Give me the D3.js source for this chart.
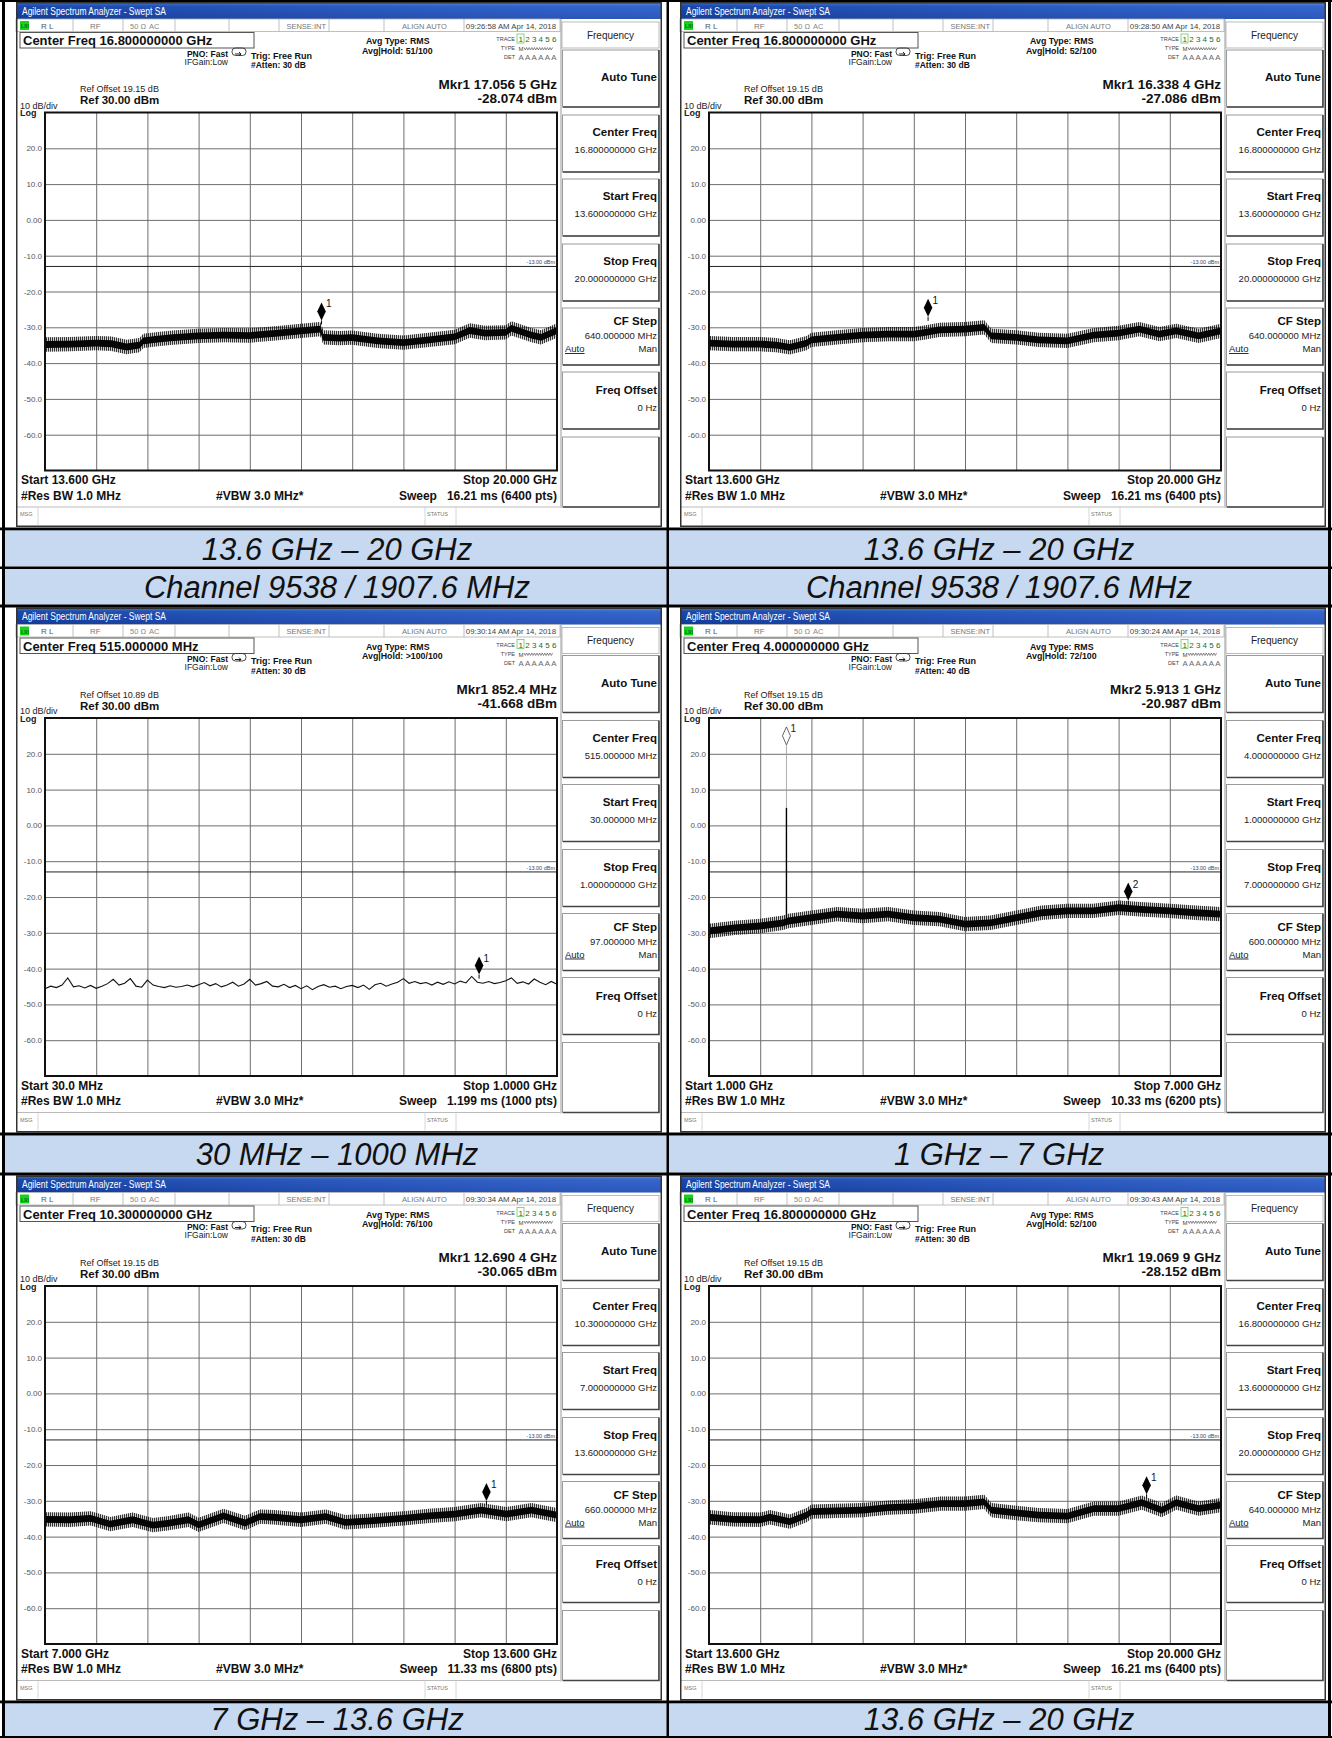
<!DOCTYPE html>
<html><head><meta charset="utf-8">
<script src="https://cdn.jsdelivr.net/npm/d3@7"></script>
<style>
body{margin:0;background:#fff}
svg{display:block}
text{font-family:'Liberation Sans',Arial,sans-serif;white-space:pre}
</style>
</head><body>
<svg id="c" width="1332" height="1738"></svg>
<script>
// ---------- DATA ----------
const captionRow1a = ["13.6 GHz – 20 GHz", "13.6 GHz – 20 GHz"];
const captionRow1b = ["Channel 9538 / 1907.6 MHz", "Channel 9538 / 1907.6 MHz"];
const captionRow2 = ["30 MHz – 1000 MHz", "1 GHz – 7 GHz"];
const captionRow3 = ["7 GHz – 13.6 GHz", "13.6 GHz – 20 GHz"];

const yTickValues = [20, 10, 0, -10, -20, -30, -40, -50, -60];
const yTickLabels = ["20.0", "10.0", "0.00", "-10.0", "-20.0", "-30.0", "-40.0", "-50.0", "-60.0"];
const refLevelDbm = 30;
const bottomLevelDbm = -70;
const limitLineDbm = -13;

const panelCenterFreq = ["16.800000000 GHz", "16.800000000 GHz", "515.000000 MHz", "4.000000000 GHz", "10.300000000 GHz", "16.800000000 GHz"];
const panelAvgHold = ["51/100", "52/100", ">100/100", "72/100", "76/100", "52/100"];
const panelAtten = ["30 dB", "30 dB", "30 dB", "40 dB", "30 dB", "30 dB"];
const panelTime = ["09:26:58 AM Apr 14, 2018", "09:28:50 AM Apr 14, 2018", "09:30:14 AM Apr 14, 2018", "09:30:24 AM Apr 14, 2018", "09:30:34 AM Apr 14, 2018", "09:30:43 AM Apr 14, 2018"];
const panelRefOffset = ["19.15 dB", "19.15 dB", "10.89 dB", "19.15 dB", "19.15 dB", "19.15 dB"];
const panelStartGHz = [13.6, 13.6, 0.03, 1.0, 7.0, 13.6];
const panelStopGHz = [20.0, 20.0, 1.0, 7.0, 13.6, 20.0];
const panelStartText = ["13.600 GHz", "13.600 GHz", "30.0 MHz", "1.000 GHz", "7.000 GHz", "13.600 GHz"];
const panelStopText = ["20.000 GHz", "20.000 GHz", "1.0000 GHz", "7.000 GHz", "13.600 GHz", "20.000 GHz"];
const panelSweep = ["16.21 ms (6400 pts)", "16.21 ms (6400 pts)", "1.199 ms (1000 pts)", "10.33 ms (6200 pts)", "11.33 ms (6800 pts)", "16.21 ms (6400 pts)"];
const panelStartKey = ["13.600000000 GHz", "13.600000000 GHz", "30.000000 MHz", "1.000000000 GHz", "7.000000000 GHz", "13.600000000 GHz"];
const panelStopKey = ["20.000000000 GHz", "20.000000000 GHz", "1.000000000 GHz", "7.000000000 GHz", "13.600000000 GHz", "20.000000000 GHz"];
const panelCfStep = ["640.000000 MHz", "640.000000 MHz", "97.000000 MHz", "600.000000 MHz", "660.000000 MHz", "640.000000 MHz"];

const markerName = ["Mkr1", "Mkr1", "Mkr1", "Mkr2", "Mkr1", "Mkr1"];
const markerNum = ["1", "1", "1", "2", "1", "1"];
const markerFreqText = ["17.056 5 GHz", "16.338 4 GHz", "852.4 MHz", "5.913 1 GHz", "12.690 4 GHz", "19.069 9 GHz"];
const markerFreqGHz = [17.0565, 16.3384, 0.8524, 5.9131, 12.6904, 19.0699];
const markerLevelDbm = [-28.074, -27.086, -41.668, -20.987, -30.065, -28.152];

// traces: [GHz, dBm] (centre of the noise band)
const trace1 = [[13.60,-34.8],[13.92,-34.7],[14.24,-34.4],[14.43,-34.6],[14.62,-35.5],[14.78,-35.0],[14.83,-33.8],[15.01,-33.3],[15.20,-32.9],[15.52,-32.4],[15.84,-32.2],[16.16,-32.3],[16.48,-31.7],[16.80,-31.0],[17.04,-30.5],[17.08,-32.8],[17.28,-33.0],[17.44,-32.9],[17.76,-33.8],[18.08,-34.3],[18.40,-33.5],[18.72,-32.7],[18.91,-30.9],[19.10,-31.6],[19.36,-31.4],[19.43,-30.3],[19.68,-32.2],[19.80,-32.8],[20.00,-30.9]];
const trace2 = [[13.60,-34.4],[13.90,-34.7],[14.24,-34.7],[14.44,-35.0],[14.61,-35.6],[14.82,-34.4],[14.88,-33.5],[15.20,-32.8],[15.52,-32.2],[15.84,-31.9],[16.16,-31.9],[16.29,-31.5],[16.48,-30.7],[16.80,-30.5],[17.04,-30.0],[17.13,-32.4],[17.44,-32.8],[17.72,-33.5],[18.08,-33.8],[18.41,-32.2],[18.72,-31.6],[18.98,-30.5],[19.23,-31.9],[19.44,-31.0],[19.72,-32.4],[20.00,-31.0]];
const trace3 = [-45.6,-44.9,-45.3,-44.6,-42.6,-45.1,-44.8,-45.4,-44.7,
  -45.5,-44.9,-44.2,-43.0,-44.6,-44.1,-42.8,-44.9,-45.2,
  -43.2,-44.6,-45.0,-45.3,-44.8,-45.2,-45.0,-44.6,-45.1,
  -44.5,-43.9,-44.8,-44.2,-45.1,-44.6,-43.8,-44.9,-44.3,
  -43.0,-44.6,-44.2,-43.6,-44.9,-45.1,-44.4,-45.3,-44.7,
  -45.6,-44.8,-45.9,-45.0,-44.5,-45.2,-44.9,-45.6,-45.0,
  -44.7,-45.3,-44.6,-45.8,-44.5,-44.1,-44.9,-44.3,-43.8,
  -42.8,-44.1,-43.6,-44.2,-43.9,-44.6,-43.8,-44.4,-43.7,
  -44.3,-43.5,-44.0,-42.2,-43.8,-44.1,-43.6,-44.2,-43.9,
  -43.4,-42.6,-44.1,-43.7,-44.3,-42.9,-43.8,-44.5,-43.6,-44.4];
const trace4 = [[1.00,-29.5],[1.30,-28.6],[1.60,-28.1],[1.87,-27.2],[1.93,-26.7],[2.20,-25.8],[2.50,-24.8],[2.80,-25.3],[3.10,-24.8],[3.40,-25.8],[3.70,-26.2],[4.00,-27.6],[4.30,-27.2],[4.60,-25.8],[4.90,-24.4],[5.20,-23.9],[5.50,-23.9],[5.80,-23.0],[6.10,-23.5],[6.40,-23.9],[6.70,-24.4],[7.00,-24.8]];
const trace5 = [[7.00,-35.2],[7.32,-35.3],[7.59,-34.9],[7.84,-36.5],[8.13,-35.3],[8.39,-36.8],[8.58,-36.3],[8.85,-35.3],[8.98,-36.7],[9.30,-34.2],[9.58,-36.2],[9.77,-34.4],[9.95,-34.6],[10.30,-35.3],[10.62,-34.4],[10.87,-36.0],[11.19,-35.6],[11.62,-34.9],[11.95,-34.2],[12.28,-33.7],[12.62,-32.6],[12.95,-33.7],[13.27,-32.6],[13.60,-34.0]];
const trace6 = [[13.60,-34.6],[13.90,-35.2],[14.24,-35.3],[14.36,-34.6],[14.61,-35.8],[14.82,-34.0],[14.88,-33.0],[15.20,-32.8],[15.52,-32.6],[15.84,-31.9],[16.16,-31.6],[16.50,-30.8],[16.80,-30.8],[17.04,-30.3],[17.13,-32.6],[17.44,-33.4],[17.72,-34.0],[18.08,-34.3],[18.41,-32.2],[18.72,-32.2],[19.01,-30.5],[19.26,-32.6],[19.44,-30.5],[19.72,-32.2],[20.00,-31.2]];

// panel 4 extras: carrier spike and reference marker 1
const spikeFreqGHz = 1.9076;
const spikeTopDbm = 4.9;
const refMarkerDbm = 22.5;

// ---------- LAYOUT ----------
const svg = d3.select("#c");
const W = 646, H = 525;
const colX = [16, 680];
const rowY = [2, 607.5, 1175.5];
const px0 = 29, px1 = 541, py0 = 110.5, py1 = 468.5;

const defs = svg.append("defs");
const grad = defs.append("linearGradient").attr("id", "tb").attr("x1", 0).attr("y1", 0).attr("x2", 0).attr("y2", 1);
grad.append("stop").attr("offset", "0%").attr("stop-color", "#4a86e8");
grad.append("stop").attr("offset", "25%").attr("stop-color", "#1f55c8");
grad.append("stop").attr("offset", "100%").attr("stop-color", "#1545b4");
const grad2 = defs.append("linearGradient").attr("id", "tbh").attr("x1", 0).attr("y1", 0).attr("x2", 1).attr("y2", 0);
grad2.append("stop").attr("offset", "0%").attr("stop-color", "#000").attr("stop-opacity", 0.15);
grad2.append("stop").attr("offset", "100%").attr("stop-color", "#fff").attr("stop-opacity", 0.1);
// fine vertical hatch used to give the trace band a noisy edge
const pat = defs.append("pattern").attr("id", "noise").attr("width", 2).attr("height", 4).attr("patternUnits", "userSpaceOnUse");
pat.append("rect").attr("width", 1).attr("height", 4).attr("fill", "#000").attr("opacity", 0.75);

// table background: caption bands
const bandColor = "#c6d9f1";
[[530, 566.5], [569, 604.5], [1135.5, 1172.5], [1703, 1736]].forEach(b => {
  svg.append("rect").attr("x", 5).attr("y", b[0]).attr("width", 1323).attr("height", b[1] - b[0]).attr("fill", bandColor);
});

function T(g, x, y, s, size, opts = {}) {
  const t = g.append("text").attr("x", x).attr("y", y).attr("font-size", size).text(s);
  if (opts.w) t.attr("font-weight", opts.w);
  if (opts.a) t.attr("text-anchor", opts.a);
  t.attr("fill", opts.f || "#111");
  if (opts.tl) t.attr("textLength", opts.tl).attr("lengthAdjust", "spacingAndGlyphs");
  if (opts.st) t.attr("font-style", opts.st);
  if (opts.ff) t.attr("font-family", opts.ff);
  return t;
}

const tracesBand = [trace1, trace2, null, trace4, trace5, trace6];

function drawPanel(i) {
  const col = i % 2, row = Math.floor(i / 2);
  const g = svg.append("g").attr("transform", `translate(${colX[col]},${rowY[row]})`);
  g.append("rect").attr("width", W).attr("height", H).attr("fill", "#fff");

  // title bar
  g.append("rect").attr("width", W).attr("height", 17).attr("fill", "url(#tb)");
  g.append("rect").attr("width", W).attr("height", 17).attr("fill", "url(#tbh)");
  T(g, 6, 12.5, "Agilent Spectrum Analyzer - Swept SA", 10, {f: "#fff", tl: 144, ff: "'DejaVu Sans Condensed','Liberation Sans Narrow','Liberation Sans',sans-serif"});

  // status row
  g.append("rect").attr("x", 0).attr("y", 17).attr("width", 544).attr("height", 12.5).attr("fill", "#fff").attr("stroke", "#b0b0b0").attr("stroke-width", 0.8);
  [57, 107, 159, 213, 263, 313, 368, 448].forEach(x => g.append("line").attr("x1", x).attr("x2", x).attr("y1", 17).attr("y2", 29.5).attr("stroke", "#b0b0b0").attr("stroke-width", 0.8));
  g.append("rect").attr("x", 4).attr("y", 19).attr("width", 9).attr("height", 9).attr("fill", "#19d219");
  T(g, 5, 26, "LXI", 5, {f: "#063", w: "bold"});
  T(g, 25, 26.5, "R L", 8, {f: "#555"});
  T(g, 74, 26.5, "RF", 8, {f: "#777"});
  T(g, 114, 26.5, "50 Ω", 7.5, {f: "#888"});
  T(g, 133, 26.5, "AC", 7.5, {f: "#888"});
  T(g, 310, 26.5, "SENSE:INT", 7.5, {f: "#777", a: "end"});
  T(g, 386, 26.5, "ALIGN AUTO", 7.5, {f: "#777"});
  T(g, 540, 26.5, panelTime[i], 7.8, {f: "#444", a: "end"});

  // centre freq box
  g.append("rect").attr("x", 4).attr("y", 30.5).attr("width", 234).attr("height", 15.5).attr("fill", "#fff").attr("stroke", "#555").attr("stroke-width", 1);
  T(g, 7, 43, "Center Freq " + panelCenterFreq[i], 13, {w: "bold"});

  T(g, 212, 54.5, "PNO: Fast", 8.5, {w: "bold", a: "end"});
  T(g, 212, 62.5, "IFGain:Low", 8.5, {a: "end", f: "#222"});
  g.append("rect").attr("x", 216).attr("y", 46).attr("width", 14).attr("height", 7.5).attr("rx", 3.5).attr("fill", "none").attr("stroke", "#333").attr("stroke-width", 0.9);
  g.append("path").attr("d", "M219,52 h6 l-2,-2 M225,52 l-2,1.5").attr("fill", "none").attr("stroke", "#222").attr("stroke-width", 1);
  T(g, 235, 56.5, "Trig: Free Run", 9, {w: "bold"});
  T(g, 235, 66, "#Atten: " + panelAtten[i], 8.5, {w: "bold"});
  T(g, 350, 42, "Avg Type: RMS", 8.8, {w: "bold"});
  T(g, 346, 51.5, "Avg|Hold: " + panelAvgHold[i], 8.8, {w: "bold"});

  // trace info block
  T(g, 499, 39, "TRACE", 5.5, {f: "#444", a: "end"});
  T(g, 499, 48, "TYPE", 5.5, {f: "#444", a: "end"});
  T(g, 499, 57, "DET", 5.5, {f: "#444", a: "end"});
  g.append("rect").attr("x", 501).attr("y", 32).attr("width", 7).attr("height", 9).attr("fill", "none").attr("stroke", "#6c6").attr("stroke-width", 0.8);
  T(g, 502.5, 40, "1 2 3 4 5 6", 7.5, {f: "#2a6a2a", tl: 38});
  T(g, 502.5, 49, "M", 6, {f: "#444"});
  g.append("path").attr("d", "M508,45.5 l1.3,2.5 l1.3,-2.5 l1.3,2.5 l1.3,-2.5 l1.3,2.5 l1.3,-2.5 l1.3,2.5 l1.3,-2.5 l1.3,2.5 l1.3,-2.5 l1.3,2.5 l1.3,-2.5 l1.3,2.5 l1.3,-2.5 l1.3,2.5 l1.3,-2.5 l1.3,2.5 l1.3,-2.5 l1.3,2.5 l1.3,-2.5 l1.3,2.5 l1.3,-2.5").attr("fill", "none").attr("stroke", "#444").attr("stroke-width", 0.6);
  T(g, 502.5, 58, "A A A A A A", 6.5, {f: "#666", tl: 38});

  // marker readout
  T(g, 541, 86.5, markerName[i] + " " + markerFreqText[i], 13.5, {w: "bold", a: "end"});
  T(g, 541, 100.5, markerLevelDbm[i].toFixed(3) + " dBm", 13.5, {w: "bold", a: "end"});
  T(g, 64, 90, "Ref Offset " + panelRefOffset[i], 9, {f: "#222"});
  T(g, 64, 102, "Ref 30.00 dBm", 11.5, {w: "bold"});
  T(g, 4, 106.5, "10 dB/div", 9, {f: "#222"});
  T(g, 4, 114, "Log", 9, {f: "#222", w: "bold"});

  // plot
  const x = d3.scaleLinear().domain([panelStartGHz[i], panelStopGHz[i]]).range([px0, px1]);
  const y = d3.scaleLinear().domain([bottomLevelDbm, refLevelDbm]).range([py1, py0]);
  const p = g.append("g");
  p.append("rect").attr("x", px0).attr("y", py0).attr("width", px1 - px0).attr("height", py1 - py0).attr("fill", "#fff");
  const yAx = d3.axisLeft(y).tickValues(yTickValues).tickFormat((d, k) => yTickLabels[k]).tickSize(-(px1 - px0)).tickPadding(3);
  const ya = p.append("g").attr("transform", `translate(${px0},0)`).call(yAx);
  ya.select(".domain").remove();
  ya.selectAll("line").attr("stroke", "#6e6e6e").attr("stroke-width", 1);
  ya.selectAll("text").attr("font-size", 8).attr("fill", "#555").attr("font-family", "'Liberation Sans',Arial,sans-serif");
  const xTicks = d3.range(11).map(k => panelStartGHz[i] + k * (panelStopGHz[i] - panelStartGHz[i]) / 10);
  const xAx = d3.axisBottom(x).tickValues(xTicks).tickSize(-(py1 - py0)).tickFormat("");
  const xa = p.append("g").attr("transform", `translate(0,${py1})`).call(xAx);
  xa.select(".domain").remove();
  xa.selectAll("line").attr("stroke", "#6e6e6e").attr("stroke-width", 1);

  // limit line
  p.append("line").attr("x1", px0).attr("x2", px1).attr("y1", y(limitLineDbm)).attr("y2", y(limitLineDbm)).attr("stroke", "#222").attr("stroke-width", 1);
  T(p, px1 - 2, y(limitLineDbm) - 2, "-13.00 dBm", 5.5, {a: "end", f: "#444"});

  // trace
  const tr = tracesBand[i];
  if (tr) {
    const fuzz = d3.area().x(d => x(d[0])).y0(d => y(d[1] - 2.0)).y1(d => y(d[1] + 2.0));
    const core = d3.area().x(d => x(d[0])).y0(d => y(d[1] - 0.95)).y1(d => y(d[1] + 0.95));
    p.append("path").datum(tr).attr("d", fuzz).attr("fill", "#000").attr("opacity", 0.18);
    p.append("path").datum(tr).attr("d", fuzz).attr("fill", "url(#noise)");
    p.append("path").datum(tr).attr("d", core).attr("fill", "#050505");
  } else {
    const n = trace3.length;
    const line = d3.line().x((d, k) => x(panelStartGHz[i] + k * (panelStopGHz[i] - panelStartGHz[i]) / (n - 1))).y(d => y(d));
    p.append("path").datum(trace3).attr("d", line).attr("fill", "none").attr("stroke", "#111").attr("stroke-width", 1.1);
  }

  // panel 4 spike + reference marker
  if (i === 3) {
    const sx = x(spikeFreqGHz);
    const base = y(-27.5);
    p.append("line").attr("x1", sx).attr("x2", sx).attr("y1", y(refMarkerDbm)).attr("y2", y(spikeTopDbm)).attr("stroke", "#999").attr("stroke-width", 0.8);
    p.append("line").attr("x1", sx).attr("x2", sx).attr("y1", y(spikeTopDbm)).attr("y2", base).attr("stroke", "#000").attr("stroke-width", 1.4);
    const ty = y(refMarkerDbm);
    p.append("path").attr("d", `M${sx},${ty} L${sx - 4},${ty - 9} L${sx},${ty - 18} L${sx + 4},${ty - 9} Z`).attr("fill", "#fff").attr("stroke", "#555").attr("stroke-width", 0.9);
    T(p, sx + 4, ty - 13, "1", 10, {f: "#222"});
  }

  // marker
  const mx = x(markerFreqGHz[i]), my = y(markerLevelDbm[i]);
  p.append("line").attr("x1", mx).attr("x2", mx).attr("y1", my).attr("y2", my + 4).attr("stroke", "#000").attr("stroke-width", 1);
  p.append("path").attr("d", `M${mx},${my} L${mx - 4.3},${my - 9} L${mx},${my - 18} L${mx + 4.3},${my - 9} Z`).attr("fill", "#000");
  T(p, mx + 4.5, my - 13, markerNum[i], 10, {f: "#111"});

  // plot frame
  p.append("rect").attr("x", px0).attr("y", py0).attr("width", px1 - px0).attr("height", py1 - py0).attr("fill", "none").attr("stroke", "#111").attr("stroke-width", 2);

  // bottom annotations
  T(g, 5, 482, "Start " + panelStartText[i], 12, {w: "bold"});
  T(g, 5, 497.5, "#Res BW 1.0 MHz", 12, {w: "bold"});
  T(g, 200, 497.5, "#VBW 3.0 MHz*", 12, {w: "bold"});
  T(g, 541, 482, "Stop " + panelStopText[i], 12, {w: "bold", a: "end"});
  T(g, 541, 497.5, "Sweep   " + panelSweep[i], 12, {w: "bold", a: "end"});

  // msg bar
  g.append("line").attr("x1", 0).attr("x2", 544).attr("y1", 505).attr("y2", 505).attr("stroke", "#bbb").attr("stroke-width", 1);
  [22, 409, 440].forEach(xx => g.append("line").attr("x1", xx).attr("x2", xx).attr("y1", 505).attr("y2", 523).attr("stroke", "#ccc").attr("stroke-width", 0.8));
  T(g, 4, 514, "MSG", 5.5, {f: "#777"});
  T(g, 411, 514, "STATUS", 5.5, {f: "#777"});

  // side panel
  g.append("line").attr("x1", 545).attr("x2", 545).attr("y1", 17).attr("y2", 506).attr("stroke", "#999").attr("stroke-width", 1);
  g.append("rect").attr("x", 546).attr("y", 20).attr("width", 97).attr("height", 26).attr("fill", "#fff").attr("stroke", "#aaa").attr("stroke-width", 0.8);
  T(g, 594.5, 36.5, "Frequency", 10, {a: "middle", f: "#222"});
  const keyTops = [48, 113, 177, 242, 306, 370, 435];
  const keyH = [57, 57, 57, 57, 57, 57, 70];
  keyTops.forEach((kt, k) => {
    g.append("rect").attr("x", 546.5).attr("y", kt).attr("width", 96).attr("height", keyH[k]).attr("fill", "#fff").attr("stroke", "#9a9a9a").attr("stroke-width", 1);
    g.append("path").attr("d", `M547,${kt + keyH[k]} h96 v${-keyH[k]}`).attr("fill", "none").attr("stroke", "#444").attr("stroke-width", 1.6);
  });
  T(g, 641, 79, "Auto Tune", 11.5, {w: "bold", a: "end"});
  T(g, 641, 113 + 21, "Center Freq", 11.5, {w: "bold", a: "end"});
  T(g, 641, 113 + 38, panelCenterFreq[i], 9.5, {a: "end", f: "#222"});
  T(g, 641, 177 + 21, "Start Freq", 11.5, {w: "bold", a: "end"});
  T(g, 641, 177 + 38, panelStartKey[i], 9.5, {a: "end", f: "#222"});
  T(g, 641, 242 + 21, "Stop Freq", 11.5, {w: "bold", a: "end"});
  T(g, 641, 242 + 38, panelStopKey[i], 9.5, {a: "end", f: "#222"});
  T(g, 641, 306 + 17, "CF Step", 11.5, {w: "bold", a: "end"});
  T(g, 641, 306 + 31, panelCfStep[i], 9.5, {a: "end", f: "#222"});
  T(g, 549, 306 + 44, "Auto", 9.5, {f: "#222"}).attr("text-decoration", "underline");
  T(g, 641, 306 + 44, "Man", 9.5, {a: "end", f: "#222"});
  T(g, 641, 370 + 22, "Freq Offset", 11.5, {w: "bold", a: "end"});
  T(g, 641, 370 + 39, "0 Hz", 9.5, {a: "end", f: "#222"});

  // screenshot frame
  g.append("rect").attr("x", 0.75).attr("y", 0.75).attr("width", W - 1.5).attr("height", H - 1.5).attr("fill", "none").attr("stroke", "#333").attr("stroke-width", 1.5);
}

d3.range(6).forEach(drawPanel);

// table lines
const blk = "#000";
[[0, 0, 1332, 2], [2, 0, 3, 1738], [1328, 0, 3, 1738], [666.5, 0, 2.5, 1738],
 [0, 527.5, 1332, 2.8], [0, 566.5, 1332, 2.5], [0, 604.5, 1332, 3],
 [0, 1132.5, 1332, 3], [0, 1172.5, 1332, 3], [0, 1700.5, 1332, 2.8], [0, 1736, 1332, 2]]
  .forEach(r => svg.append("rect").attr("x", r[0]).attr("y", r[1]).attr("width", r[2]).attr("height", r[3]).attr("fill", blk));

// captions
const colCenter = [337, 999];
function caption(texts, yb) {
  texts.forEach((s, c) => T(svg, colCenter[c], yb, s, 31, {a: "middle", st: "italic", f: "#111"}));
}
caption(captionRow1a, 559.5);
caption(captionRow1b, 597.5);
caption(captionRow2, 1165);
caption(captionRow3, 1730);
</script>
</body></html>
